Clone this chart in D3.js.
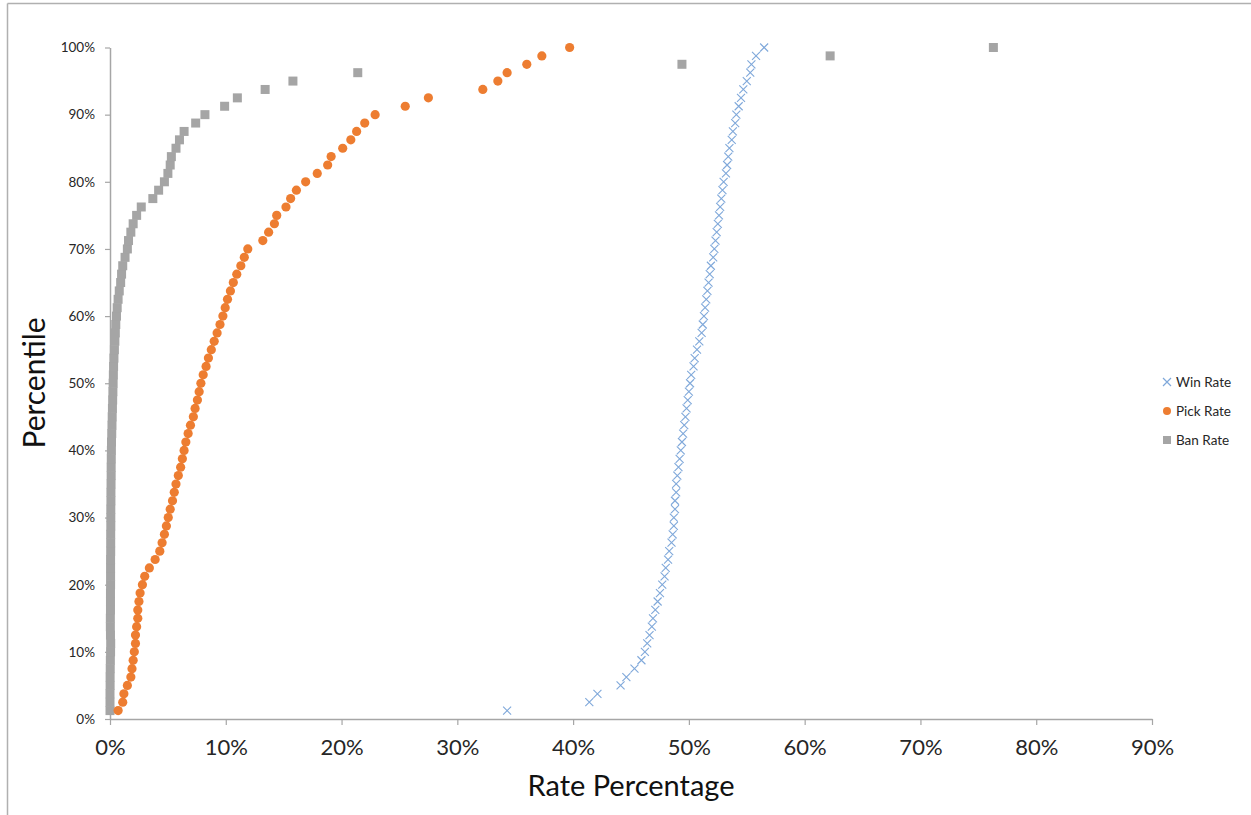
<!DOCTYPE html>
<html>
<head>
<meta charset="utf-8">
<script src="https://cdn.jsdelivr.net/npm/d3@7"></script>
<style>
  html, body { margin: 0; padding: 0; background: #fff; }
  svg { display: block; }
  text { font-family: Lato, "Open Sans", "Liberation Sans", sans-serif; }
</style>
</head>
<body>
<svg id="chart" width="1251" height="815"></svg>
<script>
// Percentile rank (k/80) for each of the 80 sorted values
const seriesNames = ["Win Rate", "Pick Rate", "Ban Rate"];
const xTicks = [0, 0.1, 0.2, 0.3, 0.4, 0.5, 0.6, 0.7, 0.8, 0.9];
const yTicks = [0, 0.1, 0.2, 0.3, 0.4, 0.5, 0.6, 0.7, 0.8, 0.9, 1.0];

// values in percent, sorted ascending
const winRate = [
  34.3, 41.4, 42.1, 44.1, 44.6, 45.3, 45.9, 46.2, 46.4, 46.6,
  46.8, 46.9, 47.1, 47.3, 47.5, 47.7, 47.9, 48.0, 48.2, 48.3,
  48.5, 48.6, 48.7, 48.7, 48.8, 48.8, 48.9, 48.9, 49.0, 49.1,
  49.2, 49.3, 49.4, 49.5, 49.6, 49.7, 49.8, 49.9, 50.0, 50.1,
  50.2, 50.4, 50.5, 50.7, 50.9, 51.1, 51.2, 51.3, 51.4, 51.5,
  51.6, 51.7, 51.8, 51.9, 52.1, 52.2, 52.3, 52.4, 52.5, 52.6,
  52.7, 52.8, 52.9, 53.0, 53.2, 53.3, 53.4, 53.5, 53.7, 53.8,
  54.0, 54.1, 54.3, 54.5, 54.7, 55.0, 55.3, 55.4, 55.8, 56.5
];
const pickRate = [
  0.7, 1.1, 1.2, 1.5, 1.8, 1.9, 2.0, 2.1, 2.2, 2.2,
  2.3, 2.4, 2.4, 2.5, 2.6, 2.8, 3.0, 3.4, 3.9, 4.3,
  4.5, 4.7, 4.87, 5.03, 5.2, 5.4, 5.55, 5.7, 5.9, 6.1,
  6.25, 6.4, 6.55, 6.75, 6.95, 7.2, 7.35, 7.55, 7.7, 7.85,
  8.05, 8.3, 8.5, 8.75, 9.0, 9.25, 9.5, 9.75, 9.95, 10.15,
  10.4, 10.65, 10.95, 11.3, 11.6, 11.9, 13.2, 13.7, 14.2, 14.4,
  15.2, 15.6, 16.1, 16.9, 17.9, 18.8, 19.1, 20.1, 20.8, 21.3,
  22.0, 22.9, 25.5, 27.5, 32.2, 33.5, 34.3, 36.0, 37.3, 39.7
];
const banRate = [
  0.0, 0.0, 0.0, 0.01, 0.01, 0.02, 0.03, 0.05, 0.06, 0.04,
  0.03, 0.03, 0.04, 0.04, 0.04, 0.05, 0.05, 0.05, 0.05, 0.06,
  0.06, 0.06, 0.07, 0.07, 0.07, 0.08, 0.08, 0.09, 0.1, 0.1,
  0.11, 0.12, 0.13, 0.15, 0.17, 0.19, 0.21, 0.23, 0.25, 0.27,
  0.29, 0.31, 0.34, 0.38, 0.42, 0.46, 0.5, 0.56, 0.62, 0.7,
  0.8, 0.92, 1.0, 1.1, 1.3, 1.5, 1.6, 1.8, 2.0, 2.3,
  2.7, 3.7, 4.2, 4.7, 5.0, 5.2, 5.3, 5.7, 6.0, 6.4,
  7.4, 8.2, 9.9, 11.0, 13.4, 15.8, 21.4, 49.4, 62.2, 76.3
];

const colors = { win: "#7fa8da", pick: "#ED7D31", ban: "#A5A5A5" };

const svg = d3.select("#chart");
const W = 1251, H = 815;

// outer frame (left and top edges visible)
svg.append("line").attr("x1", 7.5).attr("x2", 7.5).attr("y1", 3.5).attr("y2", H)
  .attr("stroke", "#b0b0b0").attr("stroke-width", 1.5);
svg.append("line").attr("x1", 7.5).attr("x2", W).attr("y1", 3.5).attr("y2", 3.5)
  .attr("stroke", "#b0b0b0").attr("stroke-width", 1.5);

const x = d3.scaleLinear().domain([0, 0.9]).range([110, 1152]);
const y = d3.scaleLinear().domain([0, 1]).range([719, 47.5]);

const fmt = d3.format(".0%");

// X axis
const xAxis = svg.append("g").attr("transform", `translate(0,${y(0)})`)
  .call(d3.axisBottom(x).tickValues(xTicks).tickFormat(fmt).tickSize(6).tickSizeOuter(0).tickPadding(14));
xAxis.select(".domain").attr("stroke", "#a6a6a6").attr("stroke-width", 1.5);
xAxis.selectAll(".tick line").attr("stroke", "#a6a6a6").attr("stroke-width", 1.2);
xAxis.selectAll(".tick text").attr("font-size", 22).attr("fill", "#262626")
  .attr("font-family", "Lato, 'Open Sans', sans-serif");

// Y axis
const yAxis = svg.append("g").attr("transform", `translate(${x(0)},0)`)
  .call(d3.axisLeft(y).tickValues(yTicks).tickFormat(fmt).tickSize(5).tickSizeOuter(0).tickPadding(10));
yAxis.select(".domain").attr("stroke", "#a6a6a6").attr("stroke-width", 1.5);
yAxis.selectAll(".tick line").attr("stroke", "#a6a6a6").attr("stroke-width", 1.2);
yAxis.selectAll(".tick text").attr("font-size", 13.5).attr("fill", "#262626")
  .attr("font-family", "Lato, 'Open Sans', sans-serif");

// Axis titles
svg.append("text").attr("x", 631).attr("y", 796).attr("text-anchor", "middle")
  .attr("font-size", 29).attr("fill", "#111").text("Rate Percentage");
svg.append("text").attr("transform", "translate(45,383) rotate(-90)").attr("text-anchor", "middle")
  .attr("font-size", 30).attr("fill", "#111").text("Percentile");

const N = 80;
const pct = i => (i + 1) / N;

// Ban rate squares
svg.append("g").selectAll("rect").data(banRate).join("rect")
  .attr("x", (d) => x(d / 100) - 4.5)
  .attr("y", (d, i) => y(pct(i)) - 4.5)
  .attr("width", 9).attr("height", 9)
  .attr("fill", colors.ban);

// Pick rate circles
svg.append("g").selectAll("circle").data(pickRate).join("circle")
  .attr("cx", (d) => x(d / 100))
  .attr("cy", (d, i) => y(pct(i)))
  .attr("r", 4.6)
  .attr("fill", colors.pick);

// Win rate crosses
const s = 4;
svg.append("g").selectAll("path").data(winRate).join("path")
  .attr("d", (d, i) => {
    const cx = x(d / 100), cy = y(pct(i));
    return `M${cx - s},${cy - s}L${cx + s},${cy + s}M${cx - s},${cy + s}L${cx + s},${cy - s}`;
  })
  .attr("stroke", colors.win).attr("stroke-width", 1.1).attr("fill", "none");

// Legend
const legend = svg.append("g");
const items = [
  { name: seriesNames[0], key: "win", y: 382 },
  { name: seriesNames[1], key: "pick", y: 411 },
  { name: seriesNames[2], key: "ban", y: 440 }
];
items.forEach(it => {
  const g = legend.append("g");
  const cx = 1167, cy = it.y;
  if (it.key === "win") {
    g.append("path").attr("d", `M${cx - 4},${cy - 4}L${cx + 4},${cy + 4}M${cx - 4},${cy + 4}L${cx + 4},${cy - 4}`)
      .attr("stroke", colors.win).attr("stroke-width", 1.2);
  } else if (it.key === "pick") {
    g.append("circle").attr("cx", cx).attr("cy", cy).attr("r", 4).attr("fill", colors.pick);
  } else {
    g.append("rect").attr("x", cx - 4).attr("y", cy - 4).attr("width", 8).attr("height", 8).attr("fill", colors.ban);
  }
  g.append("text").attr("x", 1176).attr("y", cy).attr("dy", "0.35em")
    .attr("font-size", 13.5).attr("fill", "#262626").text(it.name);
});
</script>
</body>
</html>
